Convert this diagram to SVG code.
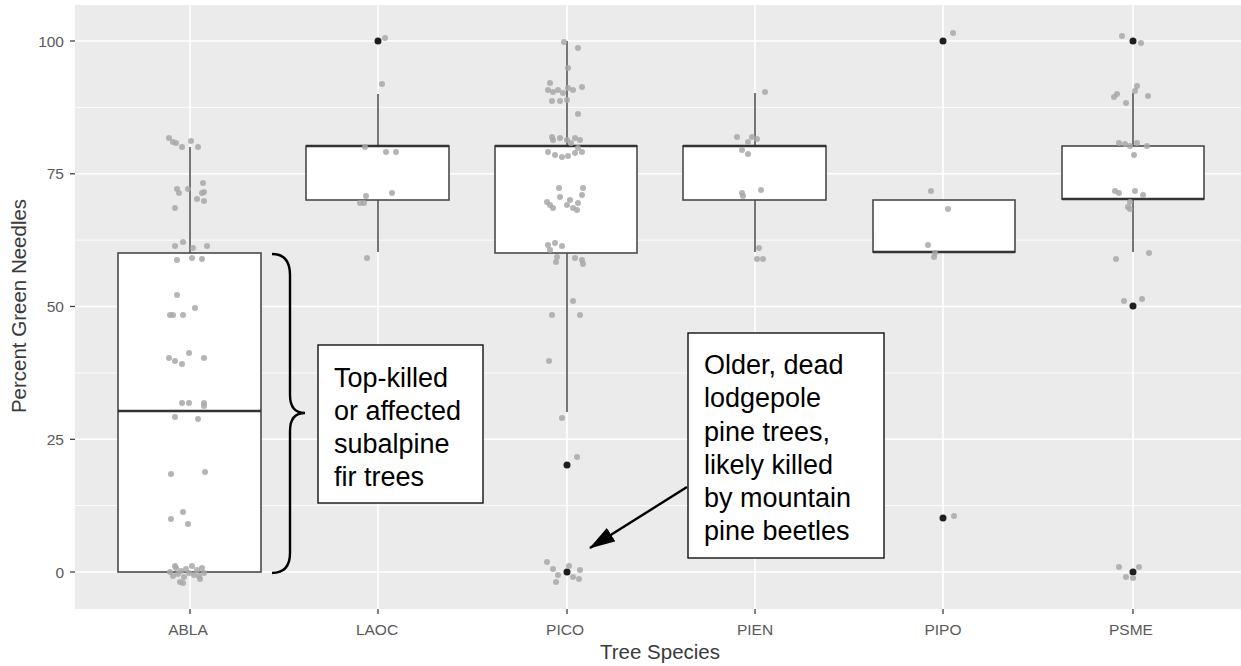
<svg xmlns="http://www.w3.org/2000/svg" width="1241" height="666" viewBox="0 0 1241 666">
<style>
.panel{fill:#ebebeb}
.gmaj{stroke:#ffffff;stroke-width:1.6}
.gmin{stroke:#ffffff;stroke-width:0.9}
.box{fill:#ffffff;stroke:#4a4a4a;stroke-width:1.6}
.med{stroke:#333333;stroke-width:2.6}
.wh{stroke:#555555;stroke-width:1.6}
.pt{fill:#a8a8a8;fill-opacity:0.85}
.out{fill:#1f1f1f}
.tick{stroke:#333333;stroke-width:1.2}
.tl{font-family:"Liberation Sans",Arial,sans-serif;font-size:15.5px;fill:#5a5a5a}
.at{font-family:"Liberation Sans",Arial,sans-serif;font-size:20.5px;fill:#3a3a3a}
.note{fill:#ffffff;stroke:#000000;stroke-width:1.3}
.nt{font-family:"Liberation Sans",Arial,sans-serif;font-size:27px;fill:#000000}
</style>
<defs>
<marker id="ah2" viewBox="0 0 26 16" refX="25" refY="8" markerWidth="26" markerHeight="16" orient="auto" markerUnits="userSpaceOnUse">
<path d="M0,0 L26,8 L0,16 Z" fill="#000"/>
</marker>
</defs>
<rect width="1241" height="666" fill="#ffffff"/>
<g id="panel">
<rect class="panel" x="75" y="5" width="1166" height="604"/>
<line class="gmin" x1="75" y1="107.4" x2="1241" y2="107.4"/>
<line class="gmin" x1="75" y1="240.1" x2="1241" y2="240.1"/>
<line class="gmin" x1="75" y1="372.9" x2="1241" y2="372.9"/>
<line class="gmin" x1="75" y1="505.6" x2="1241" y2="505.6"/>
<line class="gmaj" x1="75" y1="41" x2="1241" y2="41"/>
<line class="gmaj" x1="75" y1="173.8" x2="1241" y2="173.8"/>
<line class="gmaj" x1="75" y1="306.5" x2="1241" y2="306.5"/>
<line class="gmaj" x1="75" y1="439.3" x2="1241" y2="439.3"/>
<line class="gmaj" x1="75" y1="572" x2="1241" y2="572"/>
<line class="gmaj" x1="190" y1="5" x2="190" y2="609"/>
<line class="gmaj" x1="378" y1="5" x2="378" y2="609"/>
<line class="gmaj" x1="567" y1="5" x2="567" y2="609"/>
<line class="gmaj" x1="755" y1="5" x2="755" y2="609"/>
<line class="gmaj" x1="943" y1="5" x2="943" y2="609"/>
<line class="gmaj" x1="1133" y1="5" x2="1133" y2="609"/>
</g>
<g id="axes">
<line class="tick" x1="70" y1="41" x2="75" y2="41"/>
<line class="tick" x1="70" y1="173.8" x2="75" y2="173.8"/>
<line class="tick" x1="70" y1="306.5" x2="75" y2="306.5"/>
<line class="tick" x1="70" y1="439.3" x2="75" y2="439.3"/>
<line class="tick" x1="70" y1="572" x2="75" y2="572"/>
<text class="tl" x="64" y="46.5" text-anchor="end">100</text>
<text class="tl" x="64" y="179.3" text-anchor="end">75</text>
<text class="tl" x="64" y="312" text-anchor="end">50</text>
<text class="tl" x="64" y="444.8" text-anchor="end">25</text>
<text class="tl" x="64" y="577.5" text-anchor="end">0</text>
<line class="tick" x1="190" y1="609" x2="190" y2="614"/>
<line class="tick" x1="378" y1="609" x2="378" y2="614"/>
<line class="tick" x1="567" y1="609" x2="567" y2="614"/>
<line class="tick" x1="755" y1="609" x2="755" y2="614"/>
<line class="tick" x1="943" y1="609" x2="943" y2="614"/>
<line class="tick" x1="1133" y1="609" x2="1133" y2="614"/>
<text class="tl" x="188" y="635" text-anchor="middle">ABLA</text>
<text class="tl" x="377" y="635" text-anchor="middle">LAOC</text>
<text class="tl" x="565" y="635" text-anchor="middle">PICO</text>
<text class="tl" x="755" y="635" text-anchor="middle">PIEN</text>
<text class="tl" x="943" y="635" text-anchor="middle">PIPO</text>
<text class="tl" x="1131" y="635" text-anchor="middle">PSME</text>
<text class="at" x="660" y="659" text-anchor="middle">Tree Species</text>
<text class="at" x="26" y="306" text-anchor="middle" transform="rotate(-90 26 306)">Percent Green Needles</text>
</g>
<g id="box-ABLA">
<line class="wh" x1="190" y1="147" x2="190" y2="253"/>
<rect class="box" x="118" y="253" width="143" height="319"/>
<line class="med" x1="118" y1="411" x2="261" y2="411"/>
</g>
<g id="box-LAOC">
<line class="wh" x1="378" y1="94" x2="378" y2="146"/>
<line class="wh" x1="378" y1="200" x2="378" y2="252"/>
<rect class="box" x="306" y="146" width="143" height="54"/>
<line class="med" x1="306" y1="146" x2="449" y2="146"/>
<circle class="out" cx="378" cy="41" r="3.5"/>
</g>
<g id="box-PICO">
<line class="wh" x1="567" y1="41" x2="567" y2="146"/>
<line class="wh" x1="567" y1="253" x2="567" y2="412"/>
<rect class="box" x="495" y="146" width="142" height="107"/>
<line class="med" x1="495" y1="146" x2="637" y2="146"/>
<circle class="out" cx="567" cy="465" r="3.5"/>
<circle class="out" cx="567" cy="572" r="3.5"/>
</g>
<g id="box-PIEN">
<line class="wh" x1="755" y1="93" x2="755" y2="146"/>
<line class="wh" x1="755" y1="200" x2="755" y2="252"/>
<rect class="box" x="683" y="146" width="143" height="54"/>
<line class="med" x1="683" y1="146" x2="826" y2="146"/>
</g>
<g id="box-PIPO">
<rect class="box" x="873" y="200" width="142" height="52"/>
<line class="med" x1="873" y1="252" x2="1015" y2="252"/>
<circle class="out" cx="943" cy="41" r="3.5"/>
<circle class="out" cx="943" cy="518" r="3.5"/>
</g>
<g id="box-PSME">
<line class="wh" x1="1133" y1="93" x2="1133" y2="146"/>
<line class="wh" x1="1133" y1="199" x2="1133" y2="252"/>
<rect class="box" x="1062" y="146" width="142" height="53"/>
<line class="med" x1="1062" y1="199" x2="1204" y2="199"/>
<circle class="out" cx="1133" cy="41" r="3.5"/>
<circle class="out" cx="1133" cy="306" r="3.5"/>
<circle class="out" cx="1133" cy="572" r="3.5"/>
</g>
<g id="points">
<g class="pt">
<circle cx="169" cy="138" r="3"/><circle cx="173" cy="142" r="3"/><circle cx="176" cy="143" r="3"/><circle cx="182" cy="147" r="3"/><circle cx="191" cy="141" r="3"/><circle cx="198" cy="147" r="3"/>
<circle cx="177" cy="189" r="3"/><circle cx="179" cy="193" r="3"/><circle cx="188" cy="189" r="3"/><circle cx="203" cy="183" r="3"/><circle cx="204" cy="192" r="3"/><circle cx="202" cy="193" r="3"/><circle cx="197" cy="199" r="3"/><circle cx="204" cy="201" r="3"/><circle cx="175" cy="208" r="3"/>
<circle cx="183" cy="242" r="3"/><circle cx="175" cy="246" r="3"/><circle cx="207" cy="246" r="3"/><circle cx="193" cy="248" r="3"/><circle cx="177" cy="260" r="3"/><circle cx="192" cy="258" r="3"/><circle cx="202" cy="259" r="3"/>
<circle cx="177" cy="295" r="3"/><circle cx="195" cy="308" r="3"/><circle cx="170" cy="315" r="3"/><circle cx="173" cy="315" r="3"/><circle cx="183" cy="315" r="3"/>
<circle cx="169" cy="358" r="3"/><circle cx="175" cy="361" r="3"/><circle cx="182" cy="364" r="3"/><circle cx="189" cy="353" r="3"/><circle cx="204" cy="358" r="3"/>
<circle cx="182" cy="403" r="3"/><circle cx="189" cy="403" r="3"/><circle cx="204" cy="403" r="3"/><circle cx="204" cy="406" r="3"/><circle cx="175" cy="417" r="3"/><circle cx="198" cy="419" r="3"/>
<circle cx="171" cy="474" r="3"/><circle cx="205" cy="472" r="3"/><circle cx="183" cy="512" r="3"/><circle cx="171" cy="519" r="3"/><circle cx="188" cy="524" r="3"/>
<circle cx="170" cy="572" r="3"/><circle cx="173" cy="576" r="3"/><circle cx="176" cy="568" r="3"/><circle cx="178" cy="574" r="3"/><circle cx="181" cy="571" r="3"/><circle cx="184" cy="577" r="3"/><circle cx="186" cy="569" r="3"/><circle cx="189" cy="573" r="3"/><circle cx="192" cy="566" r="3"/><circle cx="194" cy="575" r="3"/><circle cx="197" cy="570" r="3"/><circle cx="199" cy="576" r="3"/><circle cx="202" cy="568" r="3"/><circle cx="204" cy="573" r="3"/><circle cx="180" cy="582" r="3"/><circle cx="183" cy="583" r="3"/><circle cx="175" cy="566" r="3"/><circle cx="200" cy="579" r="3"/>
<circle cx="385" cy="38" r="3"/><circle cx="382" cy="84" r="3"/><circle cx="365" cy="147" r="3"/><circle cx="386" cy="152" r="3"/><circle cx="396" cy="152" r="3"/><circle cx="366" cy="196" r="3"/><circle cx="392" cy="193" r="3"/><circle cx="360" cy="203" r="3"/><circle cx="364" cy="203" r="3"/><circle cx="367" cy="258" r="3"/>
<circle cx="564" cy="42" r="3"/><circle cx="578" cy="48" r="3"/><circle cx="568" cy="68" r="3"/><circle cx="550" cy="83" r="3"/><circle cx="548" cy="90" r="3"/><circle cx="553" cy="92" r="3"/><circle cx="558" cy="90" r="3"/><circle cx="563" cy="93" r="3"/><circle cx="568" cy="88" r="3"/><circle cx="573" cy="90" r="3"/><circle cx="582" cy="87" r="3"/><circle cx="552" cy="101" r="3"/><circle cx="560" cy="101" r="3"/><circle cx="567" cy="100" r="3"/><circle cx="578" cy="114" r="3"/>
<circle cx="552" cy="137" r="3"/><circle cx="553" cy="140" r="3"/><circle cx="560" cy="138" r="3"/><circle cx="567" cy="140" r="3"/><circle cx="575" cy="138" r="3"/><circle cx="580" cy="140" r="3"/><circle cx="571" cy="143" r="3"/><circle cx="548" cy="152" r="3"/><circle cx="555" cy="155" r="3"/><circle cx="562" cy="157" r="3"/><circle cx="568" cy="156" r="3"/><circle cx="575" cy="153" r="3"/><circle cx="582" cy="152" r="3"/><circle cx="578" cy="148" r="3"/>
<circle cx="559" cy="188" r="3"/><circle cx="583" cy="188" r="3"/><circle cx="560" cy="197" r="3"/><circle cx="547" cy="202" r="3"/><circle cx="553" cy="208" r="3"/><circle cx="567" cy="205" r="3"/><circle cx="573" cy="208" r="3"/><circle cx="578" cy="203" r="3"/><circle cx="582" cy="195" r="3"/><circle cx="577" cy="210" r="3"/><circle cx="570" cy="200" r="3"/><circle cx="550" cy="205" r="3"/>
<circle cx="548" cy="245" r="3"/><circle cx="555" cy="243" r="3"/><circle cx="562" cy="246" r="3"/><circle cx="550" cy="250" r="3"/><circle cx="557" cy="257" r="3"/><circle cx="575" cy="258" r="3"/><circle cx="582" cy="260" r="3"/><circle cx="556" cy="262" r="3"/><circle cx="583" cy="264" r="3"/>
<circle cx="573" cy="301" r="3"/><circle cx="552" cy="315" r="3"/><circle cx="580" cy="315" r="3"/><circle cx="549" cy="361" r="3"/><circle cx="562" cy="418" r="3"/><circle cx="577" cy="457" r="3"/>
<circle cx="547" cy="562" r="3"/><circle cx="553" cy="569" r="3"/><circle cx="558" cy="575" r="3"/><circle cx="556" cy="582" r="3"/><circle cx="569" cy="566" r="3"/><circle cx="573" cy="577" r="3"/><circle cx="580" cy="570" r="3"/><circle cx="579" cy="579" r="3"/>
<circle cx="765" cy="92" r="3"/><circle cx="737" cy="137" r="3"/><circle cx="748" cy="142" r="3"/><circle cx="752" cy="137" r="3"/><circle cx="757" cy="139" r="3"/><circle cx="742" cy="150" r="3"/><circle cx="748" cy="154" r="3"/><circle cx="742" cy="193" r="3"/><circle cx="743" cy="196" r="3"/><circle cx="761" cy="190" r="3"/><circle cx="759" cy="248" r="3"/><circle cx="757" cy="259" r="3"/><circle cx="763" cy="259" r="3"/>
<circle cx="953" cy="33" r="3"/><circle cx="931" cy="191" r="3"/><circle cx="948" cy="209" r="3"/><circle cx="928" cy="245" r="3"/><circle cx="935" cy="253" r="3"/><circle cx="934" cy="257" r="3"/><circle cx="954" cy="516" r="3"/>
<circle cx="1122" cy="36" r="3"/><circle cx="1141" cy="43" r="3"/><circle cx="1137" cy="86" r="3"/><circle cx="1135" cy="91" r="3"/><circle cx="1117" cy="94" r="3"/><circle cx="1114" cy="97" r="3"/><circle cx="1148" cy="96" r="3"/><circle cx="1126" cy="103" r="3"/>
<circle cx="1119" cy="143" r="3"/><circle cx="1125" cy="144" r="3"/><circle cx="1137" cy="143" r="3"/><circle cx="1147" cy="146" r="3"/><circle cx="1134" cy="155" r="3"/><circle cx="1130" cy="146" r="3"/>
<circle cx="1115" cy="191" r="3"/><circle cx="1119" cy="193" r="3"/><circle cx="1135" cy="191" r="3"/><circle cx="1143" cy="195" r="3"/><circle cx="1130" cy="202" r="3"/><circle cx="1128" cy="207" r="3"/><circle cx="1130" cy="209" r="3"/>
<circle cx="1116" cy="259" r="3"/><circle cx="1149" cy="253" r="3"/><circle cx="1124" cy="301" r="3"/><circle cx="1142" cy="299" r="3"/>
<circle cx="1119" cy="567" r="3"/><circle cx="1139" cy="567" r="3"/><circle cx="1126" cy="577" r="3"/><circle cx="1133" cy="578" r="3"/>
</g>
</g>
<g id="note-fir">
<path d="M272,254 Q290,254 290,275 L290,395 Q290,413 305,413 Q290,413 290,431 L290,553 Q290,573 272,573" fill="none" stroke="#000" stroke-width="2.4"/>
<rect class="note" x="318" y="345" width="165" height="158"/>
<text class="nt" x="334" y="387">Top-killed</text>
<text class="nt" x="334" y="420">or affected</text>
<text class="nt" x="334" y="453">subalpine</text>
<text class="nt" x="334" y="486">fir trees</text>
</g>
<g id="note-pico">
<rect class="note" x="688" y="333" width="196" height="225"/>
<text class="nt" x="704" y="374">Older, dead</text>
<text class="nt" x="704" y="407">lodgepole</text>
<text class="nt" x="704" y="441">pine trees,</text>
<text class="nt" x="704" y="474">likely killed</text>
<text class="nt" x="704" y="507">by mountain</text>
<text class="nt" x="704" y="540">pine beetles</text>
</g>
<g id="connectors">
<line x1="687" y1="487" x2="590" y2="548" stroke="#000" stroke-width="2.4" marker-end="url(#ah2)"/>
</g>
</svg>
